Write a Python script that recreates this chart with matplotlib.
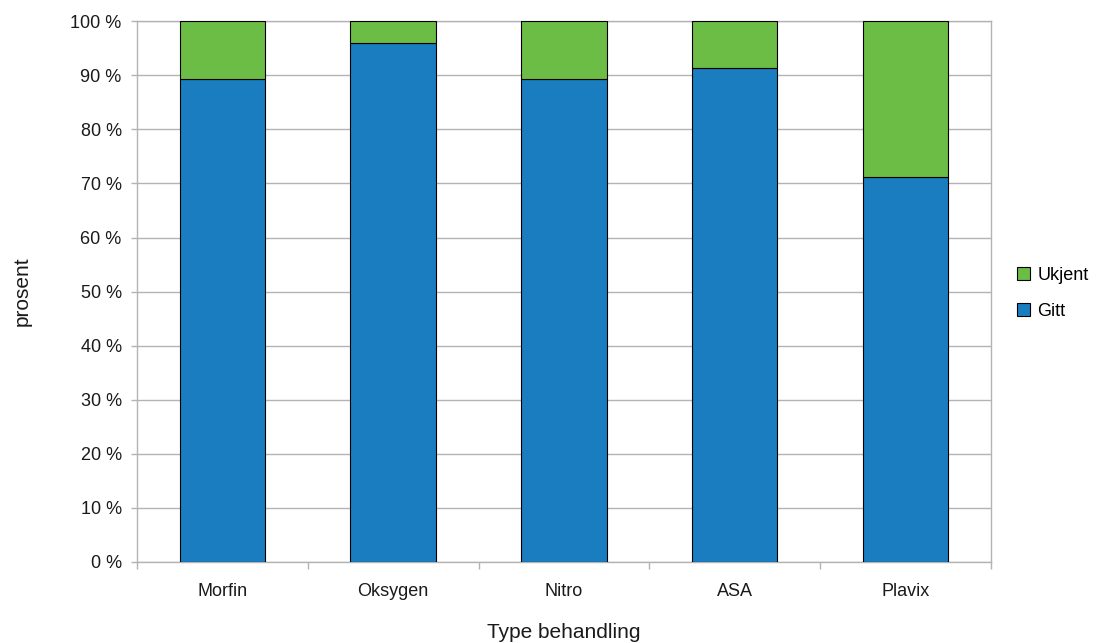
import matplotlib
matplotlib.use("Agg")
import matplotlib.pyplot as plt
import numpy as np

plt.rcParams['font.family'] = ['Liberation Sans', 'DejaVu Sans']

categories = ["Morfin", "Oksygen", "Nitro", "ASA", "Plavix"]
gitt = [89.3, 95.9, 89.3, 91.4, 71.1]
ukjent = [10.7, 4.1, 10.7, 8.6, 28.9]
yticks = [0, 10, 20, 30, 40, 50, 60, 70, 80, 90, 100]

blue = "#1a7dc0"
green = "#6bbd45"
grid_c = "#b3b3b3"
text_c = "#1a1a1a"

fig = plt.figure(figsize=(10.96, 6.43), dpi=100)
ax = fig.add_axes([0.125, 0.126, 0.779, 0.841])

x = np.arange(len(categories))
b1 = ax.bar(x, gitt, width=0.5, color=blue, edgecolor="black", linewidth=0.8, label="Gitt", zorder=3)
b2 = ax.bar(x, ukjent, width=0.5, bottom=gitt, color=green, edgecolor="black", linewidth=0.8, label="Ukjent", zorder=3)

ax.set_xlim(-0.5, len(categories) - 0.5)
ax.set_ylim(0, 100)
ax.set_yticks(yticks)
ax.set_yticklabels([f"{v} %" for v in yticks], fontsize=13, color=text_c)
ax.yaxis.grid(True, color=grid_c, linewidth=1, zorder=0)

# category labels centred, tick marks at category boundaries
ax.set_xticks(x)
ax.set_xticklabels(categories, fontsize=13, color=text_c)
ax.tick_params(axis="x", length=0, pad=15)
ax.set_xticks(np.arange(-0.5, len(categories), 1.0), minor=True)
ax.tick_params(axis="x", which="minor", length=5, color=grid_c, width=1)
ax.tick_params(axis="y", length=4, color=grid_c, width=1, pad=7)

for s in ax.spines.values():
    s.set_color(grid_c)
    s.set_linewidth(1)

ax.set_xlabel("Type behandling", fontsize=15, color=text_c, labelpad=17)
ax.set_ylabel("prosent", fontsize=15, color=text_c, labelpad=28)

handles = [b2, b1]
leg = ax.legend(handles, ["Ukjent", "Gitt"], loc="center left", bbox_to_anchor=(1.012, 0.497),
                frameon=False, fontsize=13, handlelength=0.7, handleheight=0.7,
                handletextpad=0.4, labelspacing=1.05)

fig.savefig("out.png", dpi=100)
